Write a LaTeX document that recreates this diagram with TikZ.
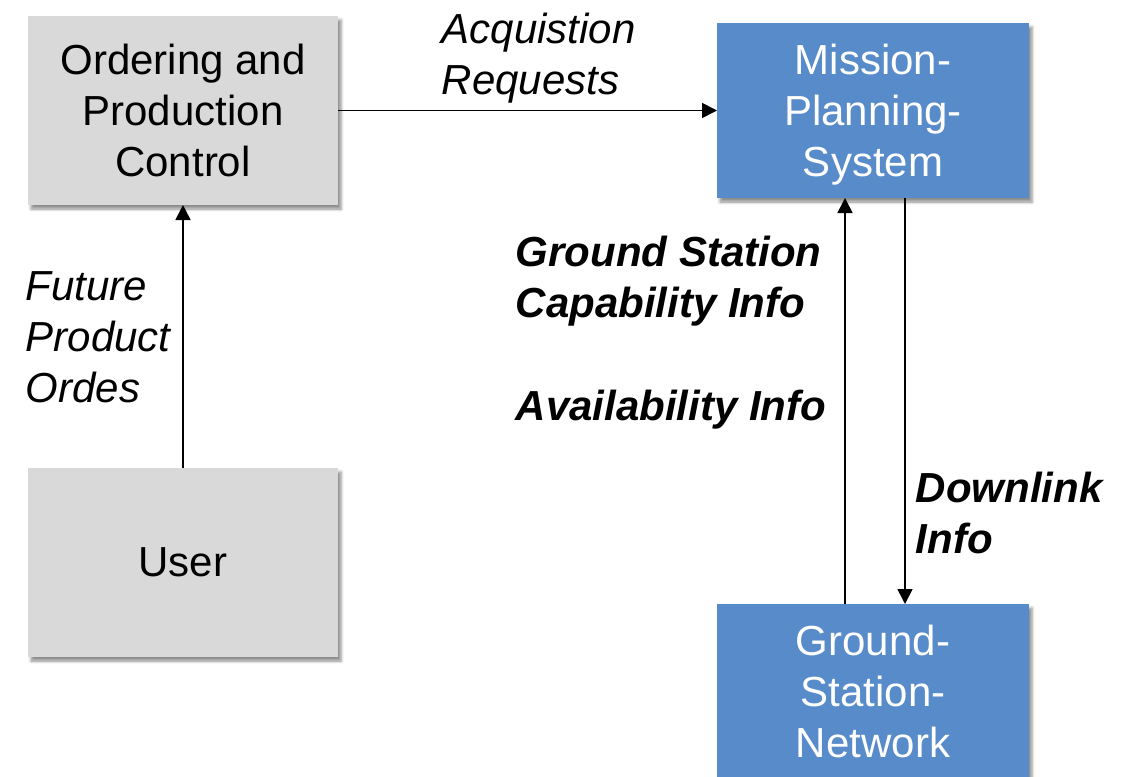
\documentclass[tikz,border=0pt]{standalone}
\usepackage{fontspec}
\setmainfont{Liberation Sans}
\usepackage{tikz}
\usetikzlibrary{positioning, arrows.meta, shadows.blur}
\definecolor{boxgrey}{RGB}{217,217,217}
\definecolor{boxblue}{RGB}{88,139,201}
\tikzset{
x=1pt, y=-1pt, % one unit per pixel, y runs downwards
>={Triangle[length=15pt, width=15pt]}, % filled arrow heads
every path/.style={line width=1.6pt},
every node/.style={font=\fontsize{42}{51}\selectfont}, % large sans text everywhere
block/.style={align=center, minimum height=189pt, minimum width=310pt, outer sep=0pt, text depth=-3pt,
  blur shadow={shadow xshift=3pt, shadow yshift=-4pt, shadow blur radius=3pt, shadow opacity=45}},
greybox/.style={block, fill=boxgrey},
bluebox/.style={block, fill=boxblue, text=white, minimum width=312pt, minimum height=175pt},
flowlabel/.style={anchor=north west, align=left, inner sep=0pt, font=\fontsize{42}{51}\selectfont\itshape}, % text beside an arrow
boldlabel/.style={flowlabel, font=\fontsize{42}{51}\selectfont\bfseries\itshape},
}

\begin{document}
\begin{tikzpicture}
        \useasboundingbox (0,0) rectangle (1131,776);

        \node[greybox] (opc) at (183,110.5) {Ordering and\\Production\\Control};
        \node[greybox, below=263pt of opc] (user) {User};
        \node[bluebox, right=379pt of opc] (mps) {Mission-\\Planning-\\System};
        \node[bluebox, below=406pt of mps] (gsn) {Ground-\\Station-\\Network};

        \draw[->] (opc) -- (mps);
        \draw[->] (user) -- (opc);
        \draw[->] ([xshift=-28pt]gsn.north) -- ([xshift=-28pt]mps.south);
        \draw[->] ([xshift=32pt]mps.south) -- ([xshift=32pt]gsn.north);

        % labels next to the arrows
        \node[flowlabel] (acq) at (441,12) {Acquistion\\Requests};
        \node[flowlabel] (fpo) at (25,271) {Future\\Product\\Ordes};
        \node[boldlabel] (gsci) at (515,235) {Ground Station\\Capability Info};
        \node[boldlabel] (avail) at (515,389) {Availability Info};
        \node[boldlabel] (dli) at (915,471) {Downlink\\Info};
    \end{tikzpicture}
\end{document}
